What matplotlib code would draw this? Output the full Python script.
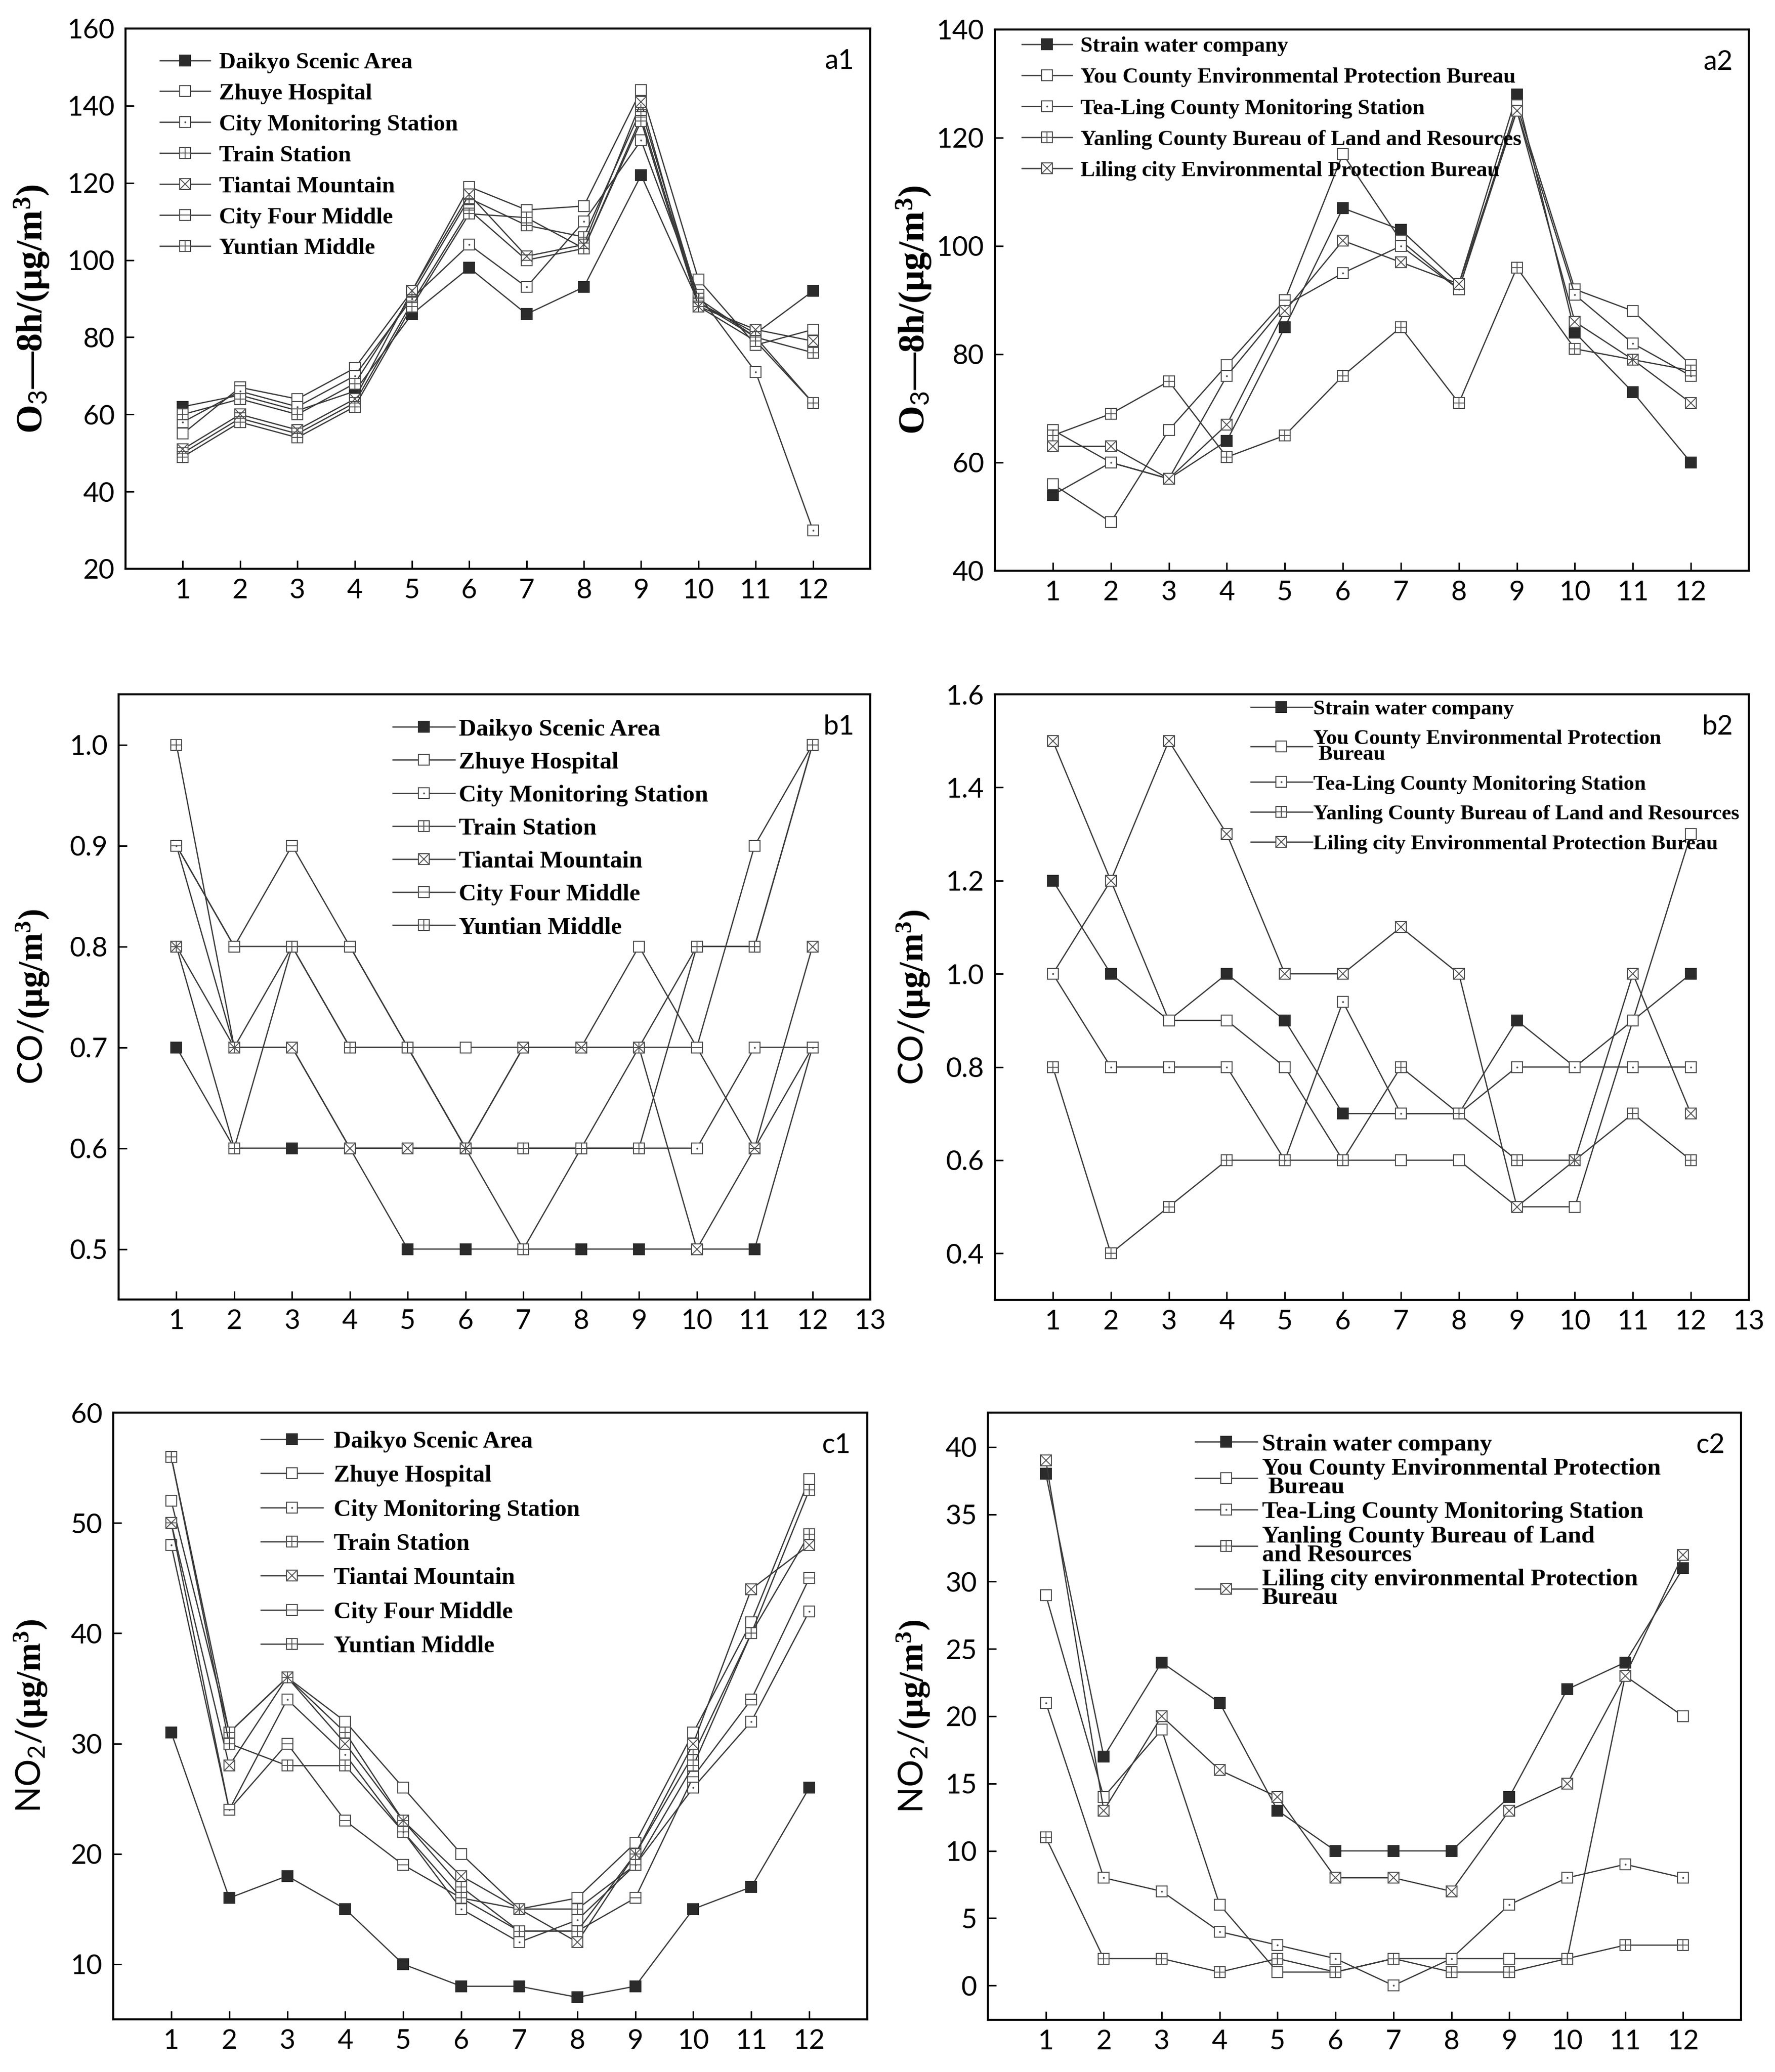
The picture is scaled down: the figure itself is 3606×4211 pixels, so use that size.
import matplotlib
matplotlib.use("Agg")
import matplotlib.pyplot as plt

plt.rcParams['font.family'] = ['Lato', 'DejaVu Sans']
plt.rcParams['mathtext.fontset'] = 'custom'
plt.rcParams['mathtext.rm'] = 'Liberation Serif:bold'
plt.rcParams['mathtext.it'] = 'Liberation Serif:bold:italic'
plt.rcParams['mathtext.bf'] = 'Liberation Serif:bold'
plt.rcParams['mathtext.sf'] = 'Lato'
plt.rcParams['mathtext.default'] = 'rm'

# ---------------- data ----------------
months = [1, 2, 3, 4, 5, 6, 7, 8, 9, 10, 11, 12]

names1 = ['Daikyo Scenic Area', 'Zhuye Hospital', 'City Monitoring Station', 'Train Station',
          'Tiantai Mountain', 'City Four Middle', 'Yuntian Middle']
names_a2 = ['Strain water company', 'You County Environmental Protection Bureau',
            'Tea-Ling County Monitoring Station', 'Yanling County Bureau of Land and Resources',
            'Liling city Environmental Protection Bureau']
names_b2 = ['Strain water company', 'You County Environmental Protection\n Bureau',
            'Tea-Ling County Monitoring Station', 'Yanling County Bureau of Land and Resources',
            'Liling city Environmental Protection Bureau']
names_c2 = ['Strain water company', 'You County Environmental Protection\n Bureau',
            'Tea-Ling County Monitoring Station', 'Yanling County Bureau of Land\nand Resources',
            'Liling city environmental Protection\nBureau']

# O3-8h, group 1
a1_daikyo = [62, 65, 61, 66, 86, 98, 86, 93, 122, 89, 81, 92]
a1_zhuye = [55, 67, 64, 72, 92, 119, 113, 114, 144, 95, 78, 82]
a1_citymon = [58, 66, 62, 70, 90, 104, 93, 110, 131, 91, 71, 30]
a1_train = [60, 64, 60, 68, 91, 116, 109, 106, 139, 90, 80, 76]
a1_tiantai = [51, 60, 56, 64, 92, 117, 101, 104, 141, 88, 82, 79]
a1_cityfour = [50, 59, 55, 63, 89, 113, 100, 103, 137, 89, 80, 63]
a1_yuntian = [49, 58, 54, 62, 88, 112, 111, 103, 136, 88, 79, 63]

# O3-8h, group 2
a2_strain = [54, 60, 57, 64, 85, 107, 103, 93, 128, 84, 73, 60]
a2_you = [56, 49, 66, 78, 90, 117, 101, 92, 126, 92, 88, 78]
a2_tealing = [66, 60, 57, 76, 89, 95, 100, 92, 125, 91, 82, 76]
a2_yanling = [65, 69, 75, 61, 65, 76, 85, 71, 96, 81, 79, 77]
a2_liling = [63, 63, 57, 67, 88, 101, 97, 93, 125, 86, 79, 71]

# CO, group 1
b1_daikyo = [0.7, 0.6, 0.6, 0.6, 0.5, 0.5, 0.5, 0.5, 0.5, 0.5, 0.5, 0.7]
b1_zhuye = [0.9, 0.8, 0.8, 0.8, 0.7, 0.7, 0.7, 0.7, 0.8, 0.7, 0.9, 1.0]
b1_citymon = [0.9, 0.7, 0.7, 0.6, 0.6, 0.6, 0.6, 0.6, 0.6, 0.6, 0.7, 0.7]
b1_train = [0.8, 0.6, 0.8, 0.7, 0.7, 0.6, 0.5, 0.6, 0.7, 0.8, 0.8, 1.0]
b1_tiantai = [0.8, 0.7, 0.7, 0.6, 0.6, 0.6, 0.7, 0.7, 0.7, 0.5, 0.6, 0.8]
b1_cityfour = [0.9, 0.8, 0.9, 0.8, 0.7, 0.6, 0.7, 0.7, 0.7, 0.7, 0.6, 0.7]
b1_yuntian = [1.0, 0.7, 0.8, 0.7, 0.7, 0.6, 0.6, 0.6, 0.6, 0.8, 0.8, 1.0]

# CO, group 2
b2_strain = [1.2, 1.0, 0.9, 1.0, 0.9, 0.7, 0.7, 0.7, 0.9, 0.8, 0.9, 1.0]
b2_you = [1.0, 1.2, 0.9, 0.9, 0.8, 0.6, 0.6, 0.6, 0.5, 0.5, 0.9, 1.3]
b2_tealing = [1.0, 0.8, 0.8, 0.8, 0.6, 0.94, 0.7, 0.7, 0.8, 0.8, 0.8, 0.8]
b2_yanling = [0.8, 0.4, 0.5, 0.6, 0.6, 0.6, 0.8, 0.7, 0.6, 0.6, 0.7, 0.6]
b2_liling = [1.5, 1.2, 1.5, 1.3, 1.0, 1.0, 1.1, 1.0, 0.5, 0.6, 1.0, 0.7]

# NO2, group 1
c1_daikyo = [31, 16, 18, 15, 10, 8, 8, 7, 8, 15, 17, 26]
c1_zhuye = [52, 31, 36, 32, 26, 20, 15, 16, 21, 31, 41, 54]
c1_citymon = [48, 24, 34, 29, 22, 15, 12, 14, 19, 26, 32, 42]
c1_train = [56, 31, 36, 31, 23, 17, 13, 13, 20, 29, 40, 49]
c1_tiantai = [50, 28, 36, 30, 23, 18, 15, 12, 20, 30, 44, 48]
c1_cityfour = [50, 24, 30, 23, 19, 16, 13, 13, 16, 27, 34, 45]
c1_yuntian = [56, 30, 28, 28, 22, 16, 15, 15, 19, 28, 40, 53]

# NO2, group 2
c2_strain = [38, 17, 24, 21, 13, 10, 10, 10, 14, 22, 24, 31]
c2_you = [29, 14, 19, 6, 1, 1, 2, 2, 2, 2, 23, 20]
c2_tealing = [21, 8, 7, 4, 3, 2, 0, 2, 6, 8, 9, 8]
c2_yanling = [11, 2, 2, 1, 2, 1, 2, 1, 1, 2, 3, 3]
c2_liling = [39, 13, 20, 16, 14, 8, 8, 7, 13, 15, 23, 32]

a1_series = [a1_daikyo, a1_zhuye, a1_citymon, a1_train, a1_tiantai, a1_cityfour, a1_yuntian]
a2_series = [a2_strain, a2_you, a2_tealing, a2_yanling, a2_liling]
b1_series = [b1_daikyo, b1_zhuye, b1_citymon, b1_train, b1_tiantai, b1_cityfour, b1_yuntian]
b2_series = [b2_strain, b2_you, b2_tealing, b2_yanling, b2_liling]
c1_series = [c1_daikyo, c1_zhuye, c1_citymon, c1_train, c1_tiantai, c1_cityfour, c1_yuntian]
c2_series = [c2_strain, c2_you, c2_tealing, c2_yanling, c2_liling]

# ---------------- styles ----------------
W, H = 3606, 4211
DPI = 100
LINE_C = '#383838'
EDGE_C = '#505050'
FILL_C = '#2b2b2b'
MS = 15.5
MEW = 1.5
LW = 1.8

styles1 = ['filled', 'open', '.', '+', 'x', '_', '+']
styles2 = ['filled', 'open', '.', '+', 'x']

fig = plt.figure(figsize=(W / DPI, H / DPI), dpi=DPI)


def add_axes(L, R, T, B):
    return fig.add_axes([L / W, 1 - B / H, (R - L) / W, (B - T) / H])


def draw_series(ax, series, styles):
    handles = []
    for vals, st in zip(series, styles):
        if st == 'filled':
            ln, = ax.plot(months, vals, color=LINE_C, lw=LW, marker='s', ms=MS,
                          mfc=FILL_C, mec=FILL_C, mew=MEW, zorder=3)
            handles.append(ln)
        else:
            ln, = ax.plot(months, vals, color=LINE_C, lw=LW, marker='s', ms=MS,
                          mfc='white', mec=EDGE_C, mew=MEW, zorder=3)
            if st == 'open':
                handles.append(ln)
            else:
                if st == '.':
                    ov, = ax.plot(months, vals, ls='none', marker='.', ms=3.5,
                                  color=EDGE_C, zorder=4)
                else:
                    ov, = ax.plot(months, vals, ls='none', marker=st, ms=MS,
                                  mec=EDGE_C, mew=MEW * 0.9, zorder=4)
                handles.append((ln, ov))
    return handles


def style_axes(ax, ylim, yticks, xticks, fmt=None):
    ax.set_xlim(0, 13)
    ax.set_ylim(*ylim)
    ax.set_xticks(xticks)
    ax.set_yticks(yticks)
    if fmt:
        ax.set_yticklabels([fmt.format(v) for v in yticks])
    ax.tick_params(axis='both', direction='in', length=12, width=2.2,
                   labelsize=40, top=False, right=False)
    ax.tick_params(axis='y', pad=16)
    ax.tick_params(axis='x', pad=14)
    for sp in ax.spines.values():
        sp.set_linewidth(3.0)
        sp.set_color('black')


def add_legend(ax, handles, labels, L, T, Wd, Hd, hx, ytop, fs, ls, hl, htp, lsp=None):
    leg = ax.legend(handles, labels, loc='upper left',
                    bbox_to_anchor=((hx - L) / Wd, 1 - (ytop - T) / Hd),
                    frameon=False, borderpad=0, borderaxespad=0,
                    prop={'family': 'Liberation Serif', 'weight': 'bold', 'size': fs},
                    labelspacing=ls, handlelength=hl, handletextpad=htp, numpoints=1)
    if lsp is not None:
        for t in leg.get_texts():
            t.set_linespacing(lsp)
    return leg


def panel_label(ax, txt, Wd, Hd):
    ax.text(1 - 33 / Wd, 1 - 82 / Hd, txt, transform=ax.transAxes, ha='right',
            va='baseline', fontsize=40, family=['Lato', 'DejaVu Sans'])


def ylabel(txt, xr, yc, fs=50):
    fig.text(xr / W, 1 - yc / H, txt, rotation=90, ha='right', va='center',
             fontsize=fs, family='Liberation Serif', weight='bold')


O3_LABEL = 'O$_\\mathsf{3}$—8h/(μg/m$^3$)'
CO_LABEL = '$\\mathsf{CO/}$(μg/m$^3$)'
NO2_LABEL = '$\\mathsf{NO_2/}$(μg/m$^3$)'

# ---------------- a1 ----------------
L, R, T, B = 255, 1768, 58, 1156
ax = add_axes(L, R, T, B)
h = draw_series(ax, a1_series, styles1)
style_axes(ax, (20, 160), list(range(20, 161, 20)), months)
add_legend(ax, h, names1, L, T, R - L, B - T, 325, 106, 34, 0.42, 2.16, 0.38)
panel_label(ax, 'a1', R - L, B - T)
ylabel(O3_LABEL, 104, 628, fs=54)

# ---------------- a2 ----------------
L, R, T, B = 2021, 3553, 60, 1160
ax = add_axes(L, R, T, B)
h = draw_series(ax, a2_series, styles2)
style_axes(ax, (40, 140), list(range(40, 141, 20)), months)
add_legend(ax, h, names_a2, L, T, R - L, B - T, 2076, 74, 32, 0.52, 2.3, 0.38)
panel_label(ax, 'a2', R - L, B - T)
ylabel(O3_LABEL, 1896, 630, fs=54)

# ---------------- b1 ----------------
L, R, T, B = 241, 1768, 1411, 2641
ax = add_axes(L, R, T, B)
h = draw_series(ax, b1_series, styles1)
style_axes(ax, (0.45, 1.05), [0.5, 0.6, 0.7, 0.8, 0.9, 1.0], list(range(1, 14)), '{:.1f}')
add_legend(ax, h, names1, L, T, R - L, B - T, 798, 1460, 35.5, 0.46, 2.55, 0.16)
panel_label(ax, 'b1', R - L, B - T)
ylabel(CO_LABEL, 104, (T + B) / 2)

# ---------------- b2 ----------------
L, R, T, B = 2021, 3553, 1411, 2642
ax = add_axes(L, R, T, B)
h = draw_series(ax, b2_series, styles2)
style_axes(ax, (0.3, 1.6), [0.4, 0.6, 0.8, 1.0, 1.2, 1.4, 1.6], list(range(1, 14)), '{:.1f}')
add_legend(ax, h, names_b2, L, T, R - L, B - T, 2541, 1422, 31, 0.5, 2.9, 0.05, lsp=0.8)
panel_label(ax, 'b2', R - L, B - T)
ylabel(CO_LABEL, 1893, (T + B) / 2)

# ---------------- c1 ----------------
L, R, T, B = 230, 1762, 2871, 4104
ax = add_axes(L, R, T, B)
h = draw_series(ax, c1_series, styles1)
style_axes(ax, (5, 60), list(range(10, 61, 10)), months)
add_legend(ax, h, names1, L, T, R - L, B - T, 530, 2908, 35, 0.52, 2.6, 0.45)
panel_label(ax, 'c1', R - L, B - T)
ylabel(NO2_LABEL, 100, (T + B) / 2)

# ---------------- c2 ----------------
L, R, T, B = 2007, 3537, 2871, 4105
ax = add_axes(L, R, T, B)
h = draw_series(ax, c2_series, styles2)
style_axes(ax, (-2.55, 42.55), list(range(0, 41, 5)), months)
add_legend(ax, h, names_c2, L, T, R - L, B - T, 2428, 2913, 35.5, 0.12, 2.55, 0.2, lsp=0.8)
panel_label(ax, 'c2', R - L, B - T)
ylabel(NO2_LABEL, 1893, (T + B) / 2)

fig.savefig('out.png', dpi=DPI, facecolor='white')
